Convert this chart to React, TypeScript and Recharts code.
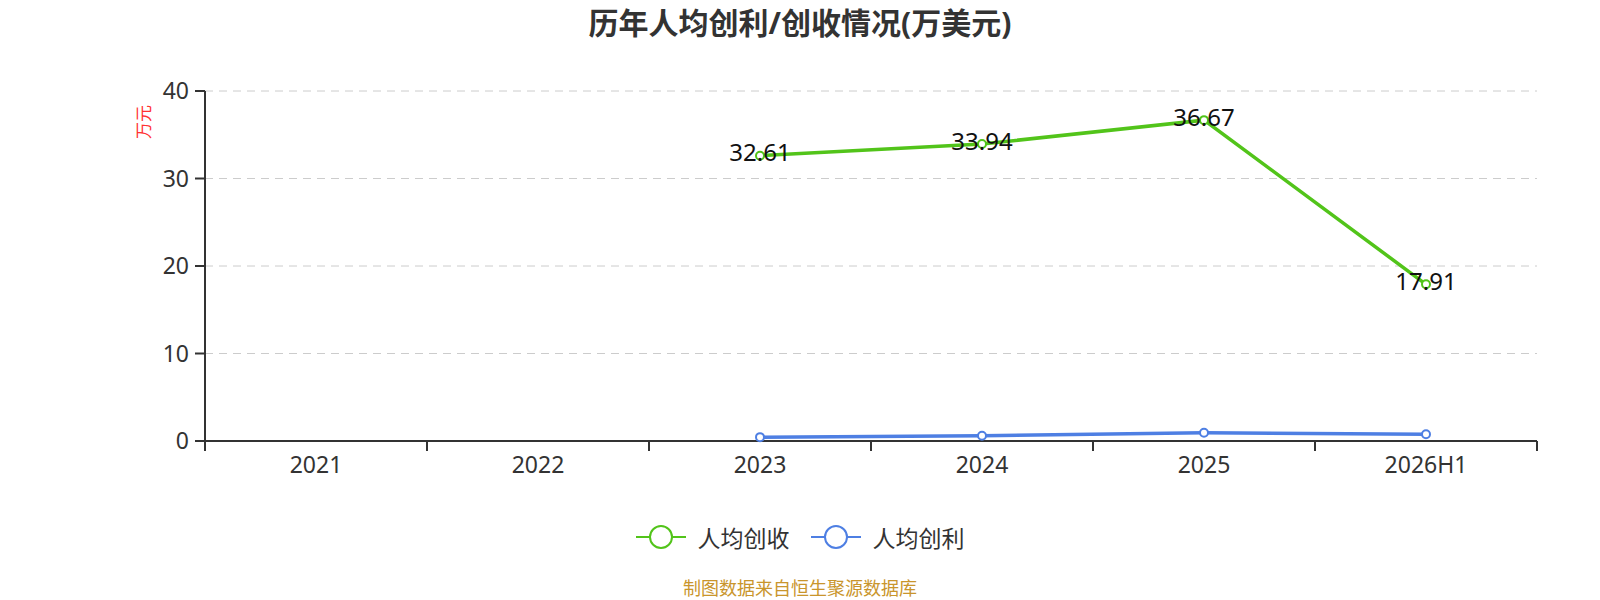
import React from 'react';
import { LineChart, Line, XAxis, YAxis, CartesianGrid, Legend, LabelList } from 'recharts';

const categories = ['2021', '2022', '2023', '2024', '2025', '2026H1'];
const revenuePerHead = [null, null, 32.61, 33.94, 36.67, 17.91];
const profitPerHead = [null, null, 0.44, 0.6, 0.94, 0.78];
const yTicks = [0, 10, 20, 30, 40];

const GREEN = '#52C41A';
const BLUE = '#4E7FE3';
const FONT = '"Noto Sans", "Noto Sans CJK SC", sans-serif';

const data = categories.map((name, i) => ({
  name,
  pos: i + 0.5,
  revenue: revenuePerHead[i],
  profit: profitPerHead[i],
}));

const boundaryTicks = categories.map((_, i) => i).concat(categories.length);
const centerTicks = data.map((d) => d.pos);

const legendItems = [
  { label: '人均创收', color: GREEN },
  { label: '人均创利', color: BLUE },
];

function LegendContent() {
  return (
    <div style={{ display: 'flex', justifyContent: 'center', alignItems: 'center', height: 40, gap: 21 }}>
      {legendItems.map((item) => (
        <div key={item.label} style={{ display: 'flex', alignItems: 'center', gap: 12 }}>
          <svg width={50} height={26}>
            <line x1={0} y1={13} x2={50} y2={13} stroke={item.color} strokeWidth={2} />
            <circle cx={25} cy={13} r={11} fill="#fff" stroke={item.color} strokeWidth={2} />
          </svg>
          <span style={{ fontSize: 23, color: '#333', fontFamily: FONT }}>{item.label}</span>
        </div>
      ))}
    </div>
  );
}

function UnitLabel(props: any) {
  const { viewBox } = props;
  const x = viewBox.x + 143;
  const y = viewBox.y + 31;
  return (
    <text x={x} y={y} transform={`rotate(-90 ${x} ${y})`} textAnchor="middle" dominantBaseline="central"
      fill="#f33" fontSize={17} fontFamily={FONT}>
      万元
    </text>
  );
}

export default function App() {
  return (
    <div style={{ position: 'absolute', left: 0, top: 0, width: 1600, height: 600, background: '#fff', fontFamily: FONT }}>
      <div style={{ position: 'absolute', left: 0, top: 2, width: 1600, textAlign: 'center', fontSize: 30, fontWeight: 'bold', color: '#333', lineHeight: '42px' }}>
        历年人均创利/创收情况(万美元)
      </div>
      <LineChart width={1600} height={600} data={data} margin={{ top: 91, right: 63, left: 0, bottom: 43 }}>
        <CartesianGrid vertical={false} stroke="#ccc" strokeDasharray="8 6" />
        <XAxis xAxisId="grid" dataKey="pos" type="number" domain={[0, categories.length]} ticks={boundaryTicks}
          tickFormatter={() => ''} tickSize={10} height={1} stroke="#333" strokeWidth={2} />
        <XAxis xAxisId="labels" dataKey="pos" type="number" domain={[0, categories.length]} ticks={centerTicks}
          tickFormatter={(v) => categories[Math.floor(v)]} axisLine={false} tickLine={false} tickSize={0}
          tickMargin={15} height={75} tick={{ fill: '#333', fontSize: 23, fontFamily: FONT }} />
        <YAxis type="number" domain={[0, 40]} ticks={yTicks} width={205} tickSize={10} tickMargin={6}
          stroke="#333" strokeWidth={2} tick={{ fill: '#333', fontSize: 23, fontFamily: FONT }}
          label={<UnitLabel />} />
        <Legend verticalAlign="bottom" content={<LegendContent />} wrapperStyle={{ left: 0, width: 1600 }} />
        <Line xAxisId="grid" dataKey="revenue" name="人均创收" stroke={GREEN} strokeWidth={3.5}
          dot={{ r: 4, fill: '#fff', stroke: GREEN, strokeWidth: 2 }} isAnimationActive={false}>
          <LabelList dataKey="revenue" position="center" fill="#111" fontSize={24} fontFamily={FONT} dy={-3} />
        </Line>
        <Line xAxisId="grid" dataKey="profit" name="人均创利" stroke={BLUE} strokeWidth={3.5}
          dot={{ r: 4, fill: '#fff', stroke: BLUE, strokeWidth: 2 }} isAnimationActive={false} />
      </LineChart>
      <div style={{ position: 'absolute', left: 0, top: 576, width: 1600, textAlign: 'center', fontSize: 18, color: '#C9952C', lineHeight: '24px' }}>
        制图数据来自恒生聚源数据库
      </div>
    </div>
  );
}
